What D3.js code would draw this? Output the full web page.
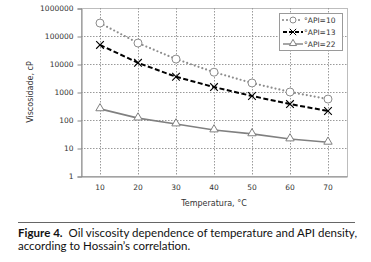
<html>
  <head>
    <script src="https://d3js.org/d3.v7.min.js"></script>
    <style>
      body { margin: 0; background: #fff; }
    </style>
  </head>
  <body>
    <svg id="chart" width="371" height="262"></svg>
    <script>
      // values (cP, log scale)
      const temps = [10, 20, 30, 40, 50, 60, 70];
      const api10 = [290000, 56000, 15000, 5100, 2100, 1000, 560];
      const api13 = [48000, 11000, 3500, 1500, 720, 370, 210];
      const api22 = [250, 117, 72, 44, 32, 21, 16];
      const yTicks = [1, 10, 100, 1000, 10000, 100000, 1000000];
      const seriesNames = ["°API=10", "°API=13", "°API=22"];

      const svg = d3.select("#chart");
      const plotL = 81, plotR = 347, plotT = 8, plotB = 176;

      const x = d3.scaleBand().domain(temps).range([plotL, plotR]);
      const y = d3.scaleLog().domain([1, 1000000]).range([plotB, plotT]);
      const cx = (t) => x(t) + x.bandwidth() / 2;

      const font = "DejaVu Sans, Verdana, sans-serif";

      // frame
      svg.append("rect")
        .attr("x", plotL + 0.5).attr("y", plotT + 0.5)
        .attr("width", plotR - plotL).attr("height", plotB - plotT)
        .style("fill", "none").style("stroke", "#bdbdbd").style("stroke-width", 1);

      // grid
      svg.selectAll("line.hgrid")
        .data(yTicks.slice(1, -1))
        .join("line")
        .attr("class", "hgrid")
        .attr("x1", plotL).attr("x2", plotR)
        .attr("y1", (d) => y(d) + 0.5).attr("y2", (d) => y(d) + 0.5)
        .style("stroke", "#9a9a9a").style("stroke-dasharray", "1.5,1.5");

      svg.selectAll("line.vgrid")
        .data(temps)
        .join("line")
        .attr("class", "vgrid")
        .attr("x1", (d) => cx(d) + 0.5).attr("x2", (d) => cx(d) + 0.5)
        .attr("y1", plotT).attr("y2", plotB)
        .style("stroke", "#9a9a9a").style("stroke-dasharray", "1.5,1.5");

      // axes
      const yAxis = svg.append("g")
        .attr("transform", `translate(${plotL + 0.5},0.5)`)
        .call(d3.axisLeft(y).tickValues(yTicks).tickFormat(d3.format("d")).tickSize(4).tickPadding(4));
      const xAxis = svg.append("g")
        .attr("transform", `translate(0,${plotB + 0.5})`)
        .call(d3.axisBottom(x).tickSize(0).tickPadding(8));
      [yAxis, xAxis].forEach((g) => {
        g.select(".domain").style("stroke", "#888");
        g.selectAll(".tick line").style("stroke", "#888");
        g.selectAll("text").style("font-family", font).style("font-size", "7.5px").style("fill", "#333");
      });

      svg.append("text")
        .attr("x", 214).attr("y", 206)
        .attr("text-anchor", "middle")
        .style("font-family", font).style("font-size", "8px").style("fill", "#333")
        .text("Temperatura, °C");

      svg.append("text")
        .attr("transform", "translate(33,92) rotate(-90)")
        .attr("text-anchor", "middle")
        .style("font-family", font).style("font-size", "8px").style("fill", "#333")
        .text("Viscosidade, cP");

      // series
      const line = d3.line().x((d, i) => cx(temps[i])).y((d) => y(d));

      svg.append("path").datum(api22).attr("d", line)
        .style("fill", "none").style("stroke", "#808080").style("stroke-width", 1.6);
      svg.append("path").datum(api13).attr("d", line)
        .style("fill", "none").style("stroke", "#000").style("stroke-width", 2)
        .style("stroke-dasharray", "5,2.5");
      svg.append("path").datum(api10).attr("d", line)
        .style("fill", "none").style("stroke", "#8c8c8c").style("stroke-width", 2.2)
        .style("stroke-linecap", "round").style("stroke-dasharray", "0,4");

      const tri = d3.symbol().type(d3.symbolTriangle).size(30);
      svg.selectAll("path.tri")
        .data(api22)
        .join("path")
        .attr("class", "tri")
        .attr("d", tri)
        .attr("transform", (d, i) => `translate(${cx(temps[i])},${y(d) - 0.5})`)
        .style("fill", "#fff").style("stroke", "#808080").style("stroke-width", 1);

      const cross = d3.symbol().type(d3.symbolX).size(40);
      svg.selectAll("path.cross")
        .data(api13)
        .join("path")
        .attr("class", "cross")
        .attr("d", cross)
        .attr("transform", (d, i) => `translate(${cx(temps[i])},${y(d)})`)
        .style("fill", "none").style("stroke", "#000").style("stroke-width", 1.1);

      svg.selectAll("circle.circ")
        .data(api10)
        .join("circle")
        .attr("class", "circ")
        .attr("cx", (d, i) => cx(temps[i])).attr("cy", (d) => y(d))
        .attr("r", 4)
        .style("fill", "#fff").style("stroke", "#8c8c8c").style("stroke-width", 1);

      // legend
      const lg = svg.append("g");
      lg.append("rect")
        .attr("x", 279.5).attr("y", 13.5).attr("width", 63).attr("height", 37)
        .style("fill", "#fff").style("stroke", "#9a9a9a");
      const ly = [20, 32, 44];
      const lstyles = [
        { stroke: "#8c8c8c", w: 2.2, dash: "0,4", cap: "round" },
        { stroke: "#000", w: 2, dash: "4,2", cap: "butt" },
        { stroke: "#808080", w: 1.4, dash: null, cap: "butt" },
      ];
      seriesNames.forEach((name, i) => {
        lg.append("line")
          .attr("x1", 283).attr("x2", 303).attr("y1", ly[i]).attr("y2", ly[i])
          .style("stroke", lstyles[i].stroke).style("stroke-width", lstyles[i].w)
          .style("stroke-dasharray", lstyles[i].dash).style("stroke-linecap", lstyles[i].cap);
        lg.append("text")
          .attr("x", 304).attr("y", ly[i] + 3)
          .style("font-family", font).style("font-size", "7.5px").style("fill", "#333")
          .text(name);
      });
      lg.append("circle").attr("cx", 293).attr("cy", ly[0]).attr("r", 3)
        .style("fill", "#fff").style("stroke", "#8c8c8c");
      lg.append("path").attr("d", d3.symbol().type(d3.symbolX).size(28))
        .attr("transform", `translate(293,${ly[1]})`)
        .style("fill", "#fff").style("stroke", "#000").style("stroke-width", 1);
      lg.append("path").attr("d", d3.symbol().type(d3.symbolTriangle).size(22))
        .attr("transform", `translate(293,${ly[2] - 0.5})`)
        .style("fill", "#fff").style("stroke", "#808080");

      // caption
      svg.append("line")
        .attr("x1", 18).attr("x2", 355).attr("y1", 222.5).attr("y2", 222.5)
        .style("stroke", "#666").style("stroke-width", 1);
      const capFont = "Lato, 'Noto Sans', sans-serif";
      const cap = svg.append("text")
        .attr("x", 18).attr("y", 237)
        .attr("textLength", 339).attr("lengthAdjust", "spacing")
        .style("font-family", capFont).style("font-size", "11.5px").style("fill", "#111");
      cap.append("tspan").style("font-weight", "bold").text("Figure 4.");
      cap.append("tspan").text("\u00a0 Oil viscosity dependence of temperature and API density,");
      svg.append("text")
        .attr("x", 18).attr("y", 250)
        .style("font-family", capFont).style("font-size", "11.5px").style("fill", "#111")
        .text("according to Hossain’s correlation.");
    </script>
  </body>
</html>
